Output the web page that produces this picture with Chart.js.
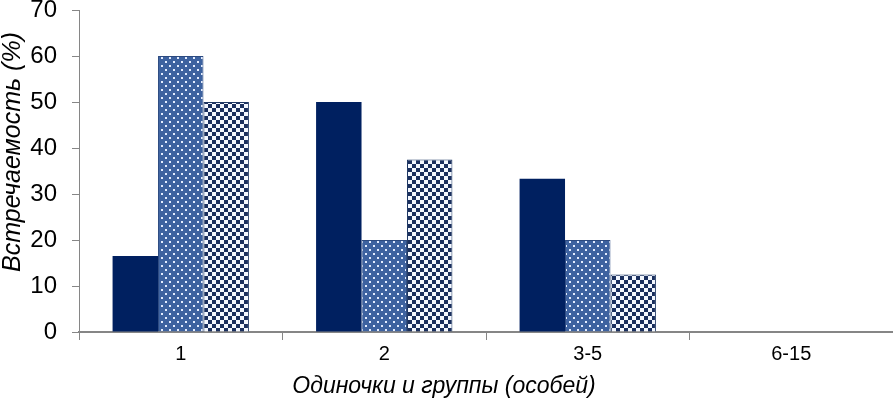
<!DOCTYPE html>
<html>
<head>
<meta charset="utf-8">
<script src="https://cdn.jsdelivr.net/npm/chart.js@4/dist/chart.umd.min.js"></script>
<style>
  html, body { margin: 0; padding: 0; background: #fff; }
  canvas { display: block; }
</style>
</head>
<body>
<canvas id="myChart" width="893" height="398"></canvas>
<script>
// data
var groups = ['1', '2', '3-5', '6-15'];
var seriesA = [16.5, 50, 33.3, 0];
var seriesB = [60, 20, 20, 0];
var seriesC = [50, 37.5, 12.5, 0];

var yTitle = 'Встречаемость (%)';
var xTitle = 'Одиночки и группы (особей)';

// fill patterns like in Excel
function dots() {
  var c = document.createElement('canvas');
  c.width = 8; c.height = 8;
  var g = c.getContext('2d');
  g.fillStyle = '#3d62a0';
  g.fillRect(0, 0, 8, 8);
  g.fillStyle = '#e4edff';
  g.fillRect(1, 1, 2, 2);
  g.fillRect(5, 5, 2, 2);
  return g.createPattern(c, 'repeat');
}

function checks() {
  var c = document.createElement('canvas');
  c.width = 8; c.height = 8;
  var g = c.getContext('2d');
  g.fillStyle = '#f4f8ff';
  g.fillRect(0, 0, 8, 8);
  g.fillStyle = '#1a2f5e';
  g.fillRect(0, 0, 4, 4);
  g.fillRect(4, 4, 4, 4);
  return g.createPattern(c, 'repeat');
}

var axisColor = '#868686';
var fam = 'Liberation Sans, Arial, sans-serif';

// axis titles are not centred on the plot in the original, so draw them by hand
var titles = {
  id: 'titles',
  afterDraw: function(chart) {
    var c = chart.ctx;
    c.save();
    c.fillStyle = '#000';
    c.font = 'italic 23px ' + fam;
    c.textAlign = 'center';
    c.textBaseline = 'alphabetic';
    c.fillText(xTitle, 444, 393);
    c.translate(20, 152);
    c.rotate(-Math.PI / 2);
    c.font = 'italic 25px ' + fam;
    c.fillText(yTitle, 0, 0);
    c.restore();
  }
};

var ctx = document.getElementById('myChart');

var barGraph = new Chart(ctx, {
  type: 'bar',
  data: {
    labels: groups,
    datasets: [
      { data: seriesA, backgroundColor: '#002060', borderColor: '#002060', borderWidth: 0 },
      { data: seriesB, backgroundColor: dots(), borderColor: '#2c4a80', borderWidth: 1 },
      { data: seriesC, backgroundColor: checks(), borderColor: '#1f3864', borderWidth: 1 }
    ]
  },
  plugins: [titles],
  options: {
    responsive: false,
    animation: false,
    categoryPercentage: 0.67,
    barPercentage: 1,
    layout: { padding: { top: 10, right: 0, left: 0, bottom: 0 }, autoPadding: false },
    plugins: { legend: { display: false }, tooltip: { enabled: false } },
    scales: {
      x: {
        grid: { display: true, drawOnChartArea: false, drawTicks: true, tickLength: 8, color: axisColor, offset: true },
        border: { color: axisColor, width: 2 },
        ticks: { color: '#000', font: { family: fam, size: 20 }, padding: 2 },
        afterFit: function(scale) { scale.height = 66; }
      },
      y: {
        min: 0,
        max: 70,
        ticks: { stepSize: 10, color: '#000', font: { family: fam, size: 24 }, padding: 15 },
        grid: { display: true, drawOnChartArea: false, drawTicks: true, tickLength: 7, color: axisColor },
        border: { color: axisColor, width: 1 },
        afterFit: function(scale) {
          scale.width = 79;
          scale.paddingTop = 0;
          scale.paddingBottom = 0;
        }
      }
    }
  }
});
</script>
</body>
</html>
